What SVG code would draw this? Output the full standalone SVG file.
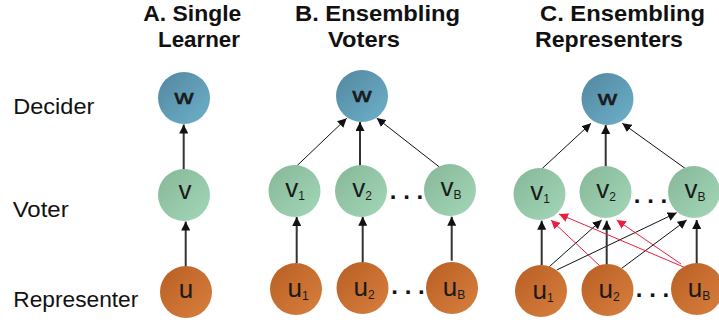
<svg xmlns="http://www.w3.org/2000/svg" width="719" height="322" viewBox="0 0 719 322">
<style>
.title{font-family:"Liberation Sans",Arial,sans-serif;font-weight:bold;font-size:22px;fill:#111}
.row{font-family:"Liberation Sans",Arial,sans-serif;font-size:22px;fill:#111}
.lbl{font-family:"Liberation Sans",Arial,sans-serif;font-size:26px;fill:#1a1a1a;text-anchor:middle}
.wl{font-family:"Liberation Sans",Arial,sans-serif;font-size:20px;fill:#1a1a1a;stroke:#1a1a1a;stroke-width:0.6;text-anchor:middle}
.sub{font-size:12px}
.dots{font-family:"Liberation Sans",Arial,sans-serif;font-weight:bold;font-size:24px;fill:#111;text-anchor:middle}
.cw{fill:url(#gw)}
.cv{fill:url(#gv)}
.cu{fill:url(#gu)}
.vert{stroke:#333;stroke-width:2;fill:none;marker-end:url(#ah)}
.diag{stroke:#111;stroke-width:1;fill:none;marker-end:url(#ah)}
.red{stroke:#e8203f;stroke-width:1;fill:none;marker-end:url(#ahr)}
</style>
<defs>
<linearGradient id="gw" x1="0" y1="0" x2="1" y2="1"><stop offset="0" stop-color="#5386a0"/><stop offset="1" stop-color="#6db1c9"/></linearGradient>
<linearGradient id="gv" x1="0" y1="0" x2="1" y2="1"><stop offset="0" stop-color="#85b797"/><stop offset="1" stop-color="#a4d7b9"/></linearGradient>
<linearGradient id="gu" x1="0" y1="0" x2="1" y2="1"><stop offset="0" stop-color="#b85e23"/><stop offset="1" stop-color="#d8803f"/></linearGradient>
<marker id="ah" viewBox="0 0 10 10" refX="10" refY="5" markerWidth="9" markerHeight="9" markerUnits="userSpaceOnUse" orient="auto"><path d="M0,0 L10,5 L0,10 z" fill="#111"/></marker>
<marker id="ahr" viewBox="0 0 10 10" refX="10" refY="5" markerWidth="9" markerHeight="9" markerUnits="userSpaceOnUse" orient="auto"><path d="M0,0 L10,5 L0,10 z" fill="#e8203f"/></marker>
</defs>

<g id="titles">
<text class="title" x="143.3" y="20.5" textLength="98" lengthAdjust="spacingAndGlyphs">A. Single</text>
<text class="title" x="158" y="47" textLength="82" lengthAdjust="spacingAndGlyphs">Learner</text>
<text class="title" x="295" y="20.5" textLength="165" lengthAdjust="spacingAndGlyphs">B. Ensembling</text>
<text class="title" x="328" y="47" textLength="72" lengthAdjust="spacingAndGlyphs">Voters</text>
<text class="title" x="540" y="20.5" textLength="165" lengthAdjust="spacingAndGlyphs">C. Ensembling</text>
<text class="title" x="535" y="47" textLength="148" lengthAdjust="spacingAndGlyphs">Representers</text>
</g>
<g id="rows">
<text class="row" x="13.3" y="114" textLength="81" lengthAdjust="spacingAndGlyphs">Decider</text>
<text class="row" x="12.7" y="216.7" textLength="56" lengthAdjust="spacingAndGlyphs">Voter</text>
<text class="row" x="13.3" y="306.7" textLength="125" lengthAdjust="spacingAndGlyphs">Representer</text>
</g>

<g id="connectors">
<line class="vert" x1="185.7" y1="266.7" x2="185.7" y2="221.5"/>
<line class="vert" x1="183.7" y1="170" x2="183.7" y2="124.5"/>

<line class="diag" x1="296.7" y1="166" x2="346.7" y2="118.3"/>
<line class="vert" x1="360" y1="166" x2="360" y2="122"/>
<line class="diag" x1="439" y1="166.7" x2="376.7" y2="118"/>
<line class="vert" x1="296.7" y1="263" x2="296.7" y2="217"/>
<line class="vert" x1="362.7" y1="262.3" x2="362.7" y2="216.7"/>
<line class="vert" x1="451.7" y1="260.7" x2="451.7" y2="216.7"/>

<line class="diag" x1="541.7" y1="169" x2="591" y2="123.3"/>
<line class="vert" x1="605.7" y1="168" x2="605.7" y2="125"/>
<line class="diag" x1="685" y1="168.3" x2="622.3" y2="123.3"/>

<line class="vert" x1="541.7" y1="265" x2="541.7" y2="220.7"/>
<line class="diag" x1="549.3" y1="266.7" x2="601.7" y2="220"/>
<line class="diag" x1="556.7" y1="270" x2="676.7" y2="212.7"/>
<line class="vert" x1="606.7" y1="265" x2="606.7" y2="220.7"/>
<line class="diag" x1="621.7" y1="268.3" x2="686.7" y2="220"/>
<line class="vert" x1="696.7" y1="265" x2="696.7" y2="220"/>
<line class="red" x1="600" y1="266" x2="551" y2="220"/>
<line class="red" x1="684.3" y1="267.3" x2="559" y2="214"/>
<line class="red" x1="681" y1="264" x2="616.7" y2="220"/>
</g>

<g id="A-w"><circle class="cw" cx="184" cy="98" r="26"/><text class="wl" x="184" y="103.5" textLength="19" lengthAdjust="spacingAndGlyphs">w</text></g>
<g id="A-v"><circle class="cv" cx="184" cy="195" r="26"/><text class="lbl" x="185" y="198.5">v</text></g>
<g id="A-u"><circle class="cu" cx="186" cy="292" r="26"/><text class="lbl" x="186" y="298">u</text></g>

<g id="B-w"><circle class="cw" cx="362" cy="96" r="26"/><text class="wl" x="362" y="101.5" textLength="19" lengthAdjust="spacingAndGlyphs">w</text></g>
<g id="B-v1"><circle class="cv" cx="294.5" cy="191" r="26"/><text class="lbl" x="295" y="197">v<tspan class="sub" dy="3">1</tspan></text></g>
<g id="B-v2"><circle class="cv" cx="361" cy="191" r="26"/><text class="lbl" x="362" y="197">v<tspan class="sub" dy="3">2</tspan></text></g>
<g id="B-vB"><circle class="cv" cx="450" cy="190" r="26"/><text class="lbl" x="451" y="196">v<tspan class="sub" dy="3">B</tspan></text></g>
<g id="B-u1"><circle class="cu" cx="296" cy="289" r="26"/><text class="lbl" x="298" y="296.7">u<tspan class="sub" dy="3">1</tspan></text></g>
<g id="B-u2"><circle class="cu" cx="362.5" cy="288" r="26"/><text class="lbl" x="364" y="295.7">u<tspan class="sub" dy="3">2</tspan></text></g>
<g id="B-uB"><circle class="cu" cx="452" cy="288" r="26"/><text class="lbl" x="454" y="295.7">u<tspan class="sub" dy="3">B</tspan></text></g>

<g id="C-w"><circle class="cw" cx="607.5" cy="99" r="26"/><text class="wl" x="607.5" y="104.5" textLength="19" lengthAdjust="spacingAndGlyphs">w</text></g>
<g id="C-v1"><circle class="cv" cx="539.5" cy="194" r="26"/><text class="lbl" x="540" y="200">v<tspan class="sub" dy="3">1</tspan></text></g>
<g id="C-v2"><circle class="cv" cx="605.5" cy="192" r="26"/><text class="lbl" x="606" y="198">v<tspan class="sub" dy="3">2</tspan></text></g>
<g id="C-vB"><circle class="cv" cx="694" cy="192" r="26"/><text class="lbl" x="695" y="198">v<tspan class="sub" dy="3">B</tspan></text></g>
<g id="C-u1"><circle class="cu" cx="541" cy="291" r="26"/><text class="lbl" x="543" y="298.5">u<tspan class="sub" dy="3">1</tspan></text></g>
<g id="C-u2"><circle class="cu" cx="607.5" cy="290" r="26"/><text class="lbl" x="609" y="297.5">u<tspan class="sub" dy="3">2</tspan></text></g>
<g id="C-uB"><circle class="cu" cx="697" cy="289" r="26"/><text class="lbl" x="699" y="296.5">u<tspan class="sub" dy="3">B</tspan></text></g>

<g id="ellipses">
<text class="dots" x="406.5" y="199">. . .</text>
<text class="dots" x="408" y="294">. . .</text>
<text class="dots" x="650.5" y="202.5">. . .</text>
<text class="dots" x="652.5" y="297">. . .</text>
</g>
</svg>
